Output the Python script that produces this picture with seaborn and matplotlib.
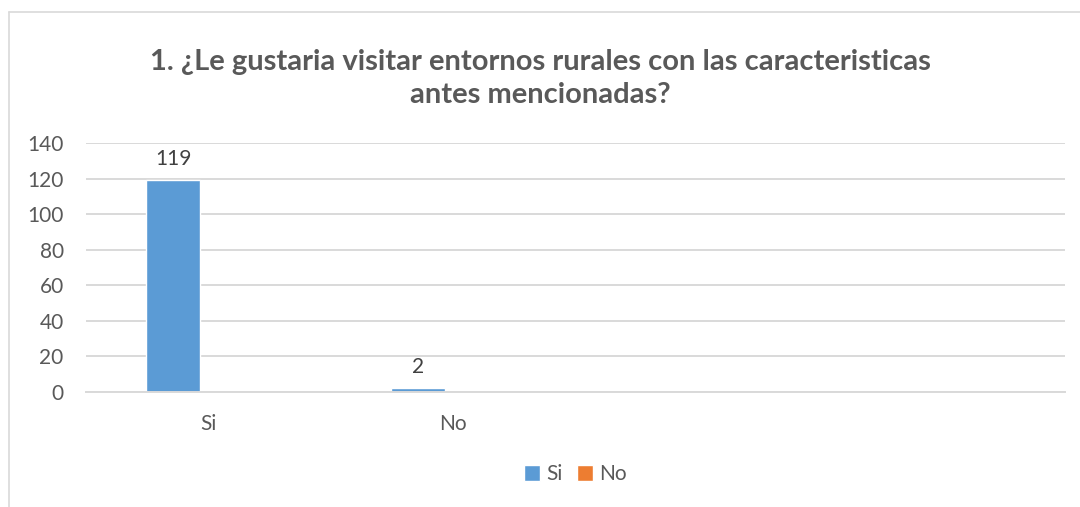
import pandas as pd
import matplotlib.pyplot as plt
import seaborn as sns
from matplotlib.lines import Line2D

# Datos
categorias = ["Si", "No"]
series = ["Si", "No"]
valores_si = [119, 2]
valores_no = [0, 0]

titulo = "1. ¿Le gustaria visitar entornos rurales con las caracteristicas\nantes mencionadas?"

df = pd.DataFrame({
    "categoria": categorias * 2,
    "serie": [series[0]] * len(categorias) + [series[1]] * len(categorias),
    "valor": valores_si + valores_no,
})

sns.set_theme(style="white")
plt.rcParams["font.family"] = ["Lato", "DejaVu Sans"]

gris = "#595959"
colores = {"Si": "#5b9bd5", "No": "#ed7d31"}

fig = plt.figure(figsize=(10.8, 5.07), dpi=100)
ax = fig.add_axes([0.0796, 0.2268, 0.9064, 0.4912])

sns.barplot(data=df, x="categoria", y="valor", hue="serie", order=categorias,
            hue_order=series, palette=colores, width=0.572, gap=0.23,
            saturation=1, ax=ax, legend=True)

# espacio para 4 categorias (dos vacias)
ax.set_xlim(-0.5, 3.5)
ax.set_ylim(0, 140)
ax.set_yticks(range(0, 141, 20))
ax.yaxis.grid(True, color="#d9d9d9", linewidth=1.4)
ax.set_axisbelow(True)
for s in ["top", "right", "left"]:
    ax.spines[s].set_visible(False)
ax.spines["bottom"].set_color("#d9d9d9")
ax.spines["bottom"].set_linewidth(1.4)
ax.tick_params(axis="both", length=0, labelsize=15, labelcolor=gris)
ax.tick_params(axis="x", pad=16)
ax.tick_params(axis="y", pad=16)
ax.set_xlabel("")
ax.set_ylabel("")

ax.bar_label(ax.containers[0], fmt="%d", padding=8, fontsize=15, color="#404040")

ax.legend(loc="center", bbox_to_anchor=(0.5, -0.33), ncol=2, frameon=False,
          fontsize=15, labelcolor=gris, handlelength=0.75, handleheight=0.75,
          handletextpad=0.3, columnspacing=0.7)

fig.text(0.5, 0.845, titulo, ha="center", va="center", fontsize=21,
         fontweight="bold", color=gris, linespacing=1.35)

# borde del area del grafico
fig.add_artist(Line2D([9 / 1080, 9 / 1080], [0, 1 - 12 / 507], color="#d9d9d9", linewidth=1.2))
fig.add_artist(Line2D([9 / 1080, 1], [1 - 12 / 507, 1 - 12 / 507], color="#d9d9d9", linewidth=1.2))

fig.savefig("out.png", dpi=100)
